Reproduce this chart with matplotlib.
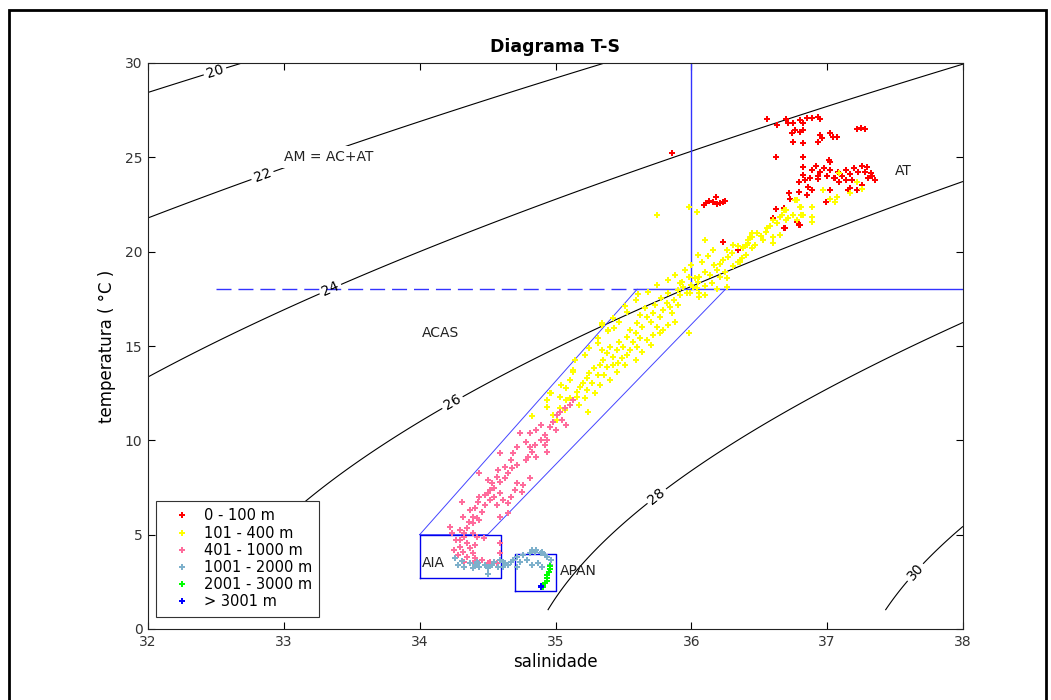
"""
Diagrama T-S — water masses off the Brazilian coast
Isopycnals (sigma-0, UNESCO 1981 one-atmosphere EOS) + CTD points by depth class.
"""

import numpy as np
import matplotlib
matplotlib.use('Agg')
import matplotlib.pyplot as plt
from matplotlib.patches import Rectangle

plt.rcParams['font.family'] = ['DejaVu Sans']

# ── Data (salinity, temperature) per depth class ──────────────────────────────
red_S = [36.56, 36.63, 36.70, 36.71, 36.75, 36.80, 36.82, 36.85, 36.89, 36.93,
         36.95, 36.74, 36.76, 36.80, 36.82, 36.95, 36.96, 37.02, 37.04, 37.07,
         37.22, 37.28, 37.25, 36.75, 36.82, 36.93, 36.62, 36.82, 37.02, 36.82,
         36.89, 36.82, 36.84, 36.79, 36.93, 36.86, 36.89, 36.79, 36.72, 36.85,
         36.73, 37.02, 37.15, 37.17, 37.22, 37.26, 37.29, 37.32, 37.35, 36.62,
         36.60, 36.69, 36.79, 36.99, 36.95, 36.98, 37.00, 37.02, 37.05, 37.08,
         37.11, 37.14, 37.17, 37.20, 37.23, 37.26, 37.28, 37.30, 37.33, 36.92,
         36.93, 37.09, 37.14, 37.18, 37.01, 37.06, 36.87, 36.09, 36.11, 36.13,
         36.16, 36.18, 36.19, 36.21, 36.23, 36.25, 35.86, 36.23, 36.34, 36.68,
         36.60, 36.68, 36.78, 36.80]
red_T = [27.03, 26.71, 27.03, 26.82, 26.82, 26.98, 26.82, 27.09, 27.09, 27.14,
         27.03, 26.29, 26.45, 26.34, 26.45, 26.18, 26.02, 26.29, 26.08, 26.08,
         26.50, 26.50, 26.55, 25.81, 25.76, 25.81, 25.02, 25.02, 24.75, 24.49,
         24.33, 24.06, 23.80, 23.69, 23.85, 23.43, 23.27, 23.16, 23.11, 23.00,
         22.79, 23.27, 23.27, 23.37, 23.27, 23.53, 24.49, 24.17, 23.80, 22.26,
         21.78, 21.25, 21.41, 22.63, 24.22, 24.43, 24.01, 24.33, 23.90, 24.22,
         24.01, 24.33, 24.12, 24.43, 24.22, 24.54, 24.22, 23.90, 24.01, 24.54,
         24.01, 23.69, 23.80, 23.80, 24.86, 23.90, 23.90, 22.47, 22.58, 22.68,
         22.63, 22.90, 22.53, 22.58, 22.63, 22.68, 25.23, 20.51, 20.09, 22.31,
         21.73, 21.25, 21.57, 21.41]

yel_S = [35.75, 35.98, 36.04, 36.12, 36.21, 36.19, 36.10, 36.06, 36.03, 35.93,
         35.94, 36.01, 36.14, 36.21, 36.25, 36.26, 36.23, 36.27, 36.30, 36.26,
         36.31, 36.34, 36.36, 36.38, 36.41, 36.42, 36.43, 36.45, 36.47, 36.45,
         36.48, 36.56, 36.60, 36.60, 36.65, 36.63, 36.67, 36.70, 36.71, 36.75,
         36.80, 36.82, 36.76, 36.19, 36.26, 36.06, 35.99, 35.90, 37.09, 36.97,
         37.02, 37.07, 37.06, 37.22, 37.26, 37.17, 36.89, 36.81, 36.78, 36.68,
         36.65, 36.60, 36.45, 36.42, 36.38, 36.81, 36.78, 36.89, 36.89, 36.70,
         36.53, 36.51, 36.55, 36.58, 36.40, 36.34, 36.37, 36.31, 36.17, 36.15,
         36.10, 36.05, 35.98, 36.08, 35.61,
         35.92, 36.00, 36.04, 36.06, 36.10, 35.97, 35.92, 35.87, 35.90, 35.84,
         35.82, 35.79, 35.86, 35.77, 35.72, 35.67, 35.62, 35.70, 35.75, 35.79,
         35.77, 35.98, 35.72, 35.64, 35.60, 35.55, 35.59, 35.62, 35.67, 35.57,
         35.53, 35.47, 35.50, 35.55, 35.60, 35.45, 35.40, 35.38, 35.42, 35.49,
         35.53, 35.35, 35.33, 35.38, 35.42, 35.46, 35.28, 35.25, 35.31, 35.36,
         35.23, 35.20, 35.27, 35.18, 35.16, 35.23, 35.13, 35.31, 35.34, 35.39,
         35.34, 35.11, 35.08, 35.03, 34.97, 35.11, 35.53, 35.39, 35.34, 35.13,
         34.96, 34.94, 34.83, 35.24, 35.16, 35.08, 35.03, 34.98, 35.01, 35.73,
         35.78, 35.83, 35.66, 35.88, 35.83, 35.70, 35.64, 35.59, 35.51, 35.45,
         35.40, 35.33, 35.29, 35.22, 35.17, 35.07, 34.94, 35.04, 35.14, 35.22,
         35.25, 35.31, 35.43, 35.47, 35.42, 35.51, 35.59, 35.68, 35.75, 35.83,
         35.88, 35.95, 36.00, 36.05, 36.16, 36.10]
yel_T = [21.94, 22.37, 22.10, 19.77, 19.35, 19.03, 18.92, 18.66, 18.60, 18.39,
         18.13, 18.13, 18.76, 18.66, 18.92, 18.60, 19.56, 19.72, 19.93, 20.09,
         20.35, 20.30, 19.45, 20.19, 20.35, 20.62, 20.78, 20.99, 20.35, 20.19,
         20.99, 21.25, 20.78, 20.46, 20.88, 21.52, 21.94, 22.21, 21.78, 21.94,
         22.37, 21.94, 22.74, 18.02, 18.13, 17.60, 17.81, 17.97, 24.17, 23.27,
         22.79, 22.90, 22.63, 23.69, 23.32, 23.11, 22.37, 22.37, 22.74, 22.21,
         21.84, 21.68, 20.78, 20.46, 20.25, 21.94, 21.68, 21.84, 21.57, 21.68,
         20.62, 20.83, 21.04, 21.36, 19.82, 19.45, 19.66, 19.24, 19.29, 18.34,
         18.18, 18.39, 18.66, 19.45, 17.76,
         18.34, 18.23, 18.07, 17.81, 17.70, 17.81, 17.70, 17.44, 17.17, 17.07,
         17.28, 16.91, 16.75, 16.54, 16.75, 16.54, 16.64, 16.27, 16.01, 15.85,
         15.69, 15.69, 15.58, 16.01, 16.22, 15.85, 15.69, 15.42, 15.32, 15.21,
         15.48, 15.21, 14.95, 14.79, 14.95, 14.79, 14.95, 14.63, 14.42, 14.36,
         14.52, 14.26, 13.99, 13.89, 13.99, 14.10, 13.83, 13.57, 13.46, 13.46,
         13.30, 13.04, 13.04, 12.83, 12.56, 12.67, 13.73, 15.16, 14.79, 15.85,
         16.22, 13.20, 12.77, 12.30, 12.51, 12.24, 16.80, 15.79, 16.11, 13.62,
         12.51, 11.77, 11.29, 11.50, 12.30, 12.14, 11.71, 11.34, 11.08, 17.17,
         17.54, 17.81, 17.01, 16.27, 16.11, 15.05, 14.68, 14.26, 13.99, 13.62,
         13.20, 12.93, 12.51, 12.24, 11.87, 11.61, 12.14, 12.93, 14.26, 14.52,
         14.89, 15.42, 15.95, 16.27, 16.48, 17.12, 17.44, 17.86, 18.23, 18.50,
         18.76, 19.03, 19.29, 19.82, 20.09, 20.62]

pink_S = [35.13, 35.07, 35.01, 35.05, 35.08, 34.98, 34.96, 34.92, 34.94, 34.89,
          34.86, 34.81, 34.78, 34.74, 34.72, 34.81, 34.83, 34.80, 34.86, 34.94,
          34.69, 34.67, 34.63, 34.68, 34.65, 34.59, 34.44, 34.81, 34.76, 34.72,
          34.57, 34.53, 34.50, 34.59, 34.55, 34.52, 34.50, 34.44, 34.55, 34.59,
          34.70, 34.67, 34.75, 34.43, 34.48, 34.41, 34.46, 34.57, 34.61, 34.65,
          34.31, 34.39, 34.42, 34.36, 34.39, 34.32, 34.59, 34.65, 34.35, 34.39,
          34.22, 34.24, 34.33, 34.42, 34.47, 34.33, 34.30, 34.35, 34.30, 34.37,
          34.25, 34.32, 34.39, 34.28, 34.35, 34.41, 34.46, 34.50, 34.52, 34.59,
          34.59, 34.57, 34.39, 34.33, 34.89, 35.00, 34.92, 34.78, 34.72, 34.63,
          34.58, 34.48, 34.52, 34.37, 34.44, 34.30, 34.41, 34.27, 34.85, 35.03,
          35.11]
pink_T = [12.14, 11.71, 11.34, 11.08, 10.81, 10.97, 10.71, 10.28, 10.02, 10.02,
          10.55, 10.39, 9.91, 10.39, 9.65, 9.65, 9.38, 9.12, 9.12, 9.38,
          9.33, 8.96, 8.59, 8.53, 8.27, 9.33, 8.27, 8.00, 7.63, 7.74,
          8.06, 7.74, 7.90, 7.79, 7.47, 7.37, 7.21, 7.00, 7.00, 7.21,
          7.37, 7.00, 7.26, 6.73, 6.57, 6.41, 6.20, 6.57, 6.84, 6.68,
          6.73, 5.94, 5.88, 5.67, 5.62, 5.94, 5.94, 6.15, 5.35, 5.09,
          5.41, 5.09, 4.88, 4.88, 4.82, 5.09, 4.72, 4.56, 4.35, 4.29,
          4.19, 4.08, 4.03, 3.92, 3.82, 3.76, 3.66, 3.50, 3.55, 4.56,
          4.03, 3.50, 3.50, 3.55, 10.81, 10.55, 9.75, 8.96, 8.69, 8.00,
          8.43, 7.10, 6.84, 6.31, 5.78, 5.25, 4.45, 4.72, 9.75, 11.50,
          11.87]

lblue_S = [34.28, 34.37, 34.41, 34.43, 34.44, 34.48, 34.50, 34.53, 34.55, 34.50,
           34.39, 34.42, 34.50, 34.59, 34.61, 34.63, 34.65, 34.67, 34.69, 34.72,
           34.76, 34.81, 34.85, 34.89, 34.92, 34.94, 34.97, 34.96, 34.74, 34.79,
           34.83, 34.87, 34.90, 34.72, 34.61, 34.58, 34.83, 34.86, 34.90, 34.33,
           34.31, 34.26]
lblue_T = [3.39, 3.50, 3.39, 3.50, 3.29, 3.39, 3.29, 3.39, 3.55, 3.23,
           3.23, 3.55, 2.92, 3.66, 3.55, 3.50, 3.39, 3.55, 3.66, 3.82,
           3.92, 4.03, 4.08, 4.03, 3.92, 3.82, 3.66, 3.39, 3.55, 3.66,
           3.39, 3.50, 3.29, 3.29, 3.29, 3.29, 4.19, 4.19, 4.08, 3.29,
           3.60, 3.76]

green_S = [34.96, 34.96, 34.95, 34.94, 34.94, 34.94, 34.92, 34.91, 34.91]
green_T = [3.34, 3.18, 3.02, 2.86, 2.70, 2.54, 2.44, 2.28, 2.23]

blue_S = [34.89, 34.89]
blue_T = [2.28, 2.23]

groups = [
    (red_S,   red_T,   '#ff0000', '0 - 100 m'),
    (yel_S,   yel_T,   '#ffff00', '101 - 400 m'),
    (pink_S,  pink_T,  '#ff6c9c', '401 - 1000 m'),
    (lblue_S, lblue_T, '#7db0cb', '1001 - 2000 m'),
    (green_S, green_T, '#00ff00', '2001 - 3000 m'),
    (blue_S,  blue_T,  '#0000ff', '> 3001 m'),
]

SIGMA_LEVELS = [20, 22, 24, 26, 28, 30]
LABEL_POS = [(32.5, 29.4), (32.85, 23.9), (33.35, 17.9),
             (34.25, 11.9), (35.75, 7.0), (37.65, 3.0)]


# ── Equation of state (UNESCO 1981, p = 0) ────────────────────────────────────
def sigma0(S, T):
    rho_w = (999.842594 + 6.793952e-2 * T - 9.095290e-3 * T**2
             + 1.001685e-4 * T**3 - 1.120083e-6 * T**4 + 6.536332e-9 * T**5)
    A = 8.24493e-1 - 4.0899e-3 * T + 7.6438e-5 * T**2 - 8.2467e-7 * T**3 + 5.3875e-9 * T**4
    B = -5.72466e-3 + 1.0227e-4 * T - 1.6546e-6 * T**2
    C = 4.8314e-4
    return rho_w + A * S + B * S**1.5 + C * S**2 - 1000.0


# ── Layout ────────────────────────────────────────────────────────────────────
fig = plt.figure(figsize=(10.51, 7.0), dpi=100, facecolor='white')
ax = fig.add_axes([148 / 1051, 71 / 700, 815 / 1051, 566 / 700])

# outer frame of the exported figure
fig.add_artist(Rectangle((9 / 1051, -0.1), 1037 / 1051, 1.1 - 10 / 700,
                         transform=fig.transFigure, fill=False,
                         edgecolor='black', lw=2))

# isopycnals (grid starts at 1 °C, as in the original)
sg, tg = np.meshgrid(np.linspace(32, 38, 241), np.linspace(1, 30, 291))
cs = ax.contour(sg, tg, sigma0(sg, tg), levels=SIGMA_LEVELS,
                colors='black', linewidths=0.8)
ax.clabel(cs, fmt='%d', fontsize=10, inline=True, inline_spacing=3,
          manual=LABEL_POS)

# water-mass limits
ax.plot([32.5, 35.6], [18, 18], color='#3333ff', lw=1, dashes=(10.8, 5))
ax.plot([35.6, 38], [18, 18], color='#3333ff', lw=1)
ax.plot([36, 36], [18, 30], color='#3333ff', lw=1)
ax.plot([34, 35.6, 36.25, 34.5, 34], [5, 18, 18, 5, 5], color='#4444ff', lw=0.7)
ax.plot([34, 34.6, 34.6, 34, 34], [2.7, 2.7, 5, 5, 2.7], color='#0000ee', lw=1)
ax.plot([34.7, 35, 35, 34.7, 34.7], [2, 2, 4, 4, 2], color='#0000ee', lw=1)

# CTD points
for s, t, c, lab in groups:
    ax.plot(s, t, ls='none', marker='P', ms=4.3, mew=0, color=c, label=lab)

# water-mass names
ax.text(33.0, 25.0, 'AM = AC+AT', fontsize=10, va='center', color='#222222',
        bbox=dict(facecolor='white', edgecolor='none', pad=3))
ax.text(37.5, 24.3, 'AT', fontsize=10, va='center', color='#222222')
ax.text(34.02, 15.7, 'ACAS', fontsize=10, va='center', color='#222222')
ax.text(34.02, 3.5, 'AIA', fontsize=10, va='center', color='#222222')
ax.text(35.03, 3.07, 'APAN', fontsize=10, va='center', color='#222222')

# ── Axes cosmetics (MATLAB look) ──────────────────────────────────────────────
ax.set_xlim(32, 38)
ax.set_ylim(0, 30)
ax.set_xticks(range(32, 39))
ax.set_yticks(range(0, 31, 5))
ax.tick_params(direction='in', top=True, right=True, length=5, width=0.8,
               labelsize=10, labelcolor='#333333', pad=4)
for sp in ax.spines.values():
    sp.set_color('#222222')
    sp.set_linewidth(0.8)

ax.set_title('Diagrama T-S', fontsize=12.5, fontweight='bold', pad=8)
ax.set_xlabel('salinidade', fontsize=12, labelpad=3)
ax.set_ylabel('temperatura ( °C )', fontsize=12, labelpad=6)

leg = ax.legend(loc='lower left', bbox_to_anchor=(0.0094, 0.0217),
                borderaxespad=0, fontsize=10.5, frameon=True, fancybox=False,
                framealpha=1, edgecolor='#333333', handlelength=2.6,
                handletextpad=0.2, borderpad=0.5, labelspacing=0.15,
                markerscale=0.85)
leg.get_frame().set_linewidth(0.8)

fig.savefig('out.png', dpi=100)
